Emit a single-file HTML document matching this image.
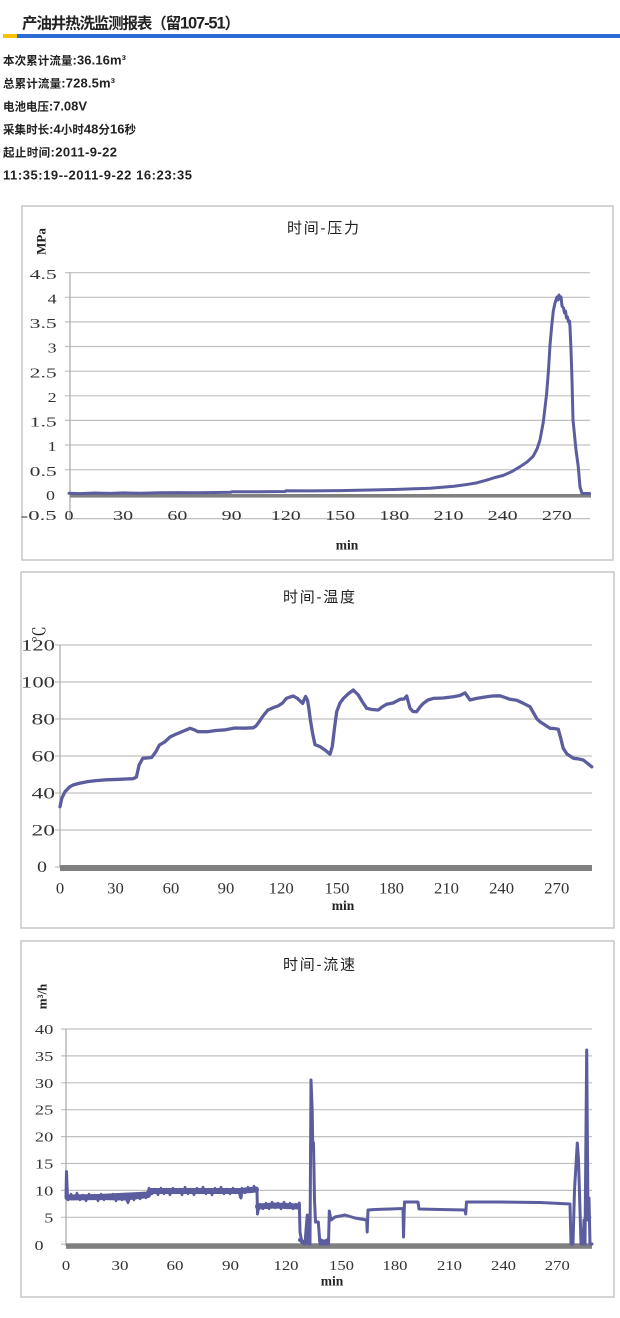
<!DOCTYPE html>
<html><head><meta charset="utf-8"><style>
html,body{margin:0;padding:0;background:#fff;}
svg{display:block;}
.cj{font-family:"Liberation Sans","Noto Sans CJK SC",sans-serif;}
.num{font-family:"Liberation Serif","Noto Serif CJK SC",serif;fill:#333;}
.ttl{font-family:"Liberation Sans","Noto Sans CJK SC",sans-serif;fill:#222;font-size:15px;}
.unit{font-family:"Liberation Serif","Noto Serif CJK SC",serif;font-weight:bold;fill:#222;}
.grid{stroke:#c0c0c0;stroke-width:1.2;}
.ax{stroke:#a8a8a8;stroke-width:1.2;}
.ser{fill:none;stroke:#5b5d9e;stroke-linejoin:round;stroke-linecap:round;}
</style></head><body>
<svg width="620" height="1318" viewBox="0 0 620 1318" xmlns="http://www.w3.org/2000/svg">
<rect x="0" y="0" width="620" height="1318" fill="#fff"/>

<!-- Header -->
<text x="22" y="28.5" class="cj" font-weight="bold" fill="#222" font-size="15.5" textLength="218" lengthAdjust="spacing">产油井热洗监测报表（留<tspan font-size="16.5">107-51</tspan>）</text>
<rect x="3" y="34" width="14" height="4" fill="#f6c200"/>
<rect x="17" y="34" width="603" height="4" fill="#2a6cd3"/>

<g class="cj" font-weight="bold" fill="#222" font-size="13">
<text x="3" y="64.7" textLength="123" lengthAdjust="spacing"><tspan font-size="11.5">本次累计流量</tspan>:36.16m³</text>
<text x="3" y="87.7" textLength="112" lengthAdjust="spacing"><tspan font-size="11.5">总累计流量</tspan>:728.5m³</text>
<text x="3" y="110.7" textLength="84" lengthAdjust="spacing"><tspan font-size="11.5">电池电压</tspan>:7.08V</text>
<text x="3" y="133.7" textLength="133" lengthAdjust="spacing"><tspan font-size="11.5">采集时长</tspan>:4<tspan font-size="11.5">小时</tspan>48<tspan font-size="11.5">分</tspan>16<tspan font-size="11.5">秒</tspan></text>
<text x="3" y="156.7" textLength="114" lengthAdjust="spacing"><tspan font-size="11.5">起止时间</tspan>:2011-9-22</text>
<text x="3" y="179.7" textLength="189" lengthAdjust="spacing">11:35:19--2011-9-22 16:23:35</text>
</g>

<!-- ============ Chart 1: pressure ============ -->
<rect x="22" y="206" width="591" height="354" fill="#fff" stroke="#c6c6c6" stroke-width="1.5"/>
<text x="323" y="233" text-anchor="middle" class="ttl" textLength="72" lengthAdjust="spacing">时间-压力</text>
<text transform="translate(45.5,241.5) rotate(-90)" text-anchor="middle" class="unit" font-size="13">MPa</text>
<g class="grid">
<line x1="65" x2="590" y1="272.7" y2="272.7"/>
<line x1="65" x2="590" y1="297.3" y2="297.3"/>
<line x1="65" x2="590" y1="321.9" y2="321.9"/>
<line x1="65" x2="590" y1="346.5" y2="346.5"/>
<line x1="65" x2="590" y1="371.2" y2="371.2"/>
<line x1="65" x2="590" y1="395.8" y2="395.8"/>
<line x1="65" x2="590" y1="420.4" y2="420.4"/>
<line x1="65" x2="590" y1="445.0" y2="445.0"/>
<line x1="65" x2="590" y1="469.7" y2="469.7"/>
<line x1="65" x2="590" y1="518.6" y2="518.6"/>
</g>
<line class="ax" x1="70" x2="70" y1="272.7" y2="518.6"/>
<g class="num" font-size="14" text-anchor="end">
<text x="56.7" y="279" textLength="27" lengthAdjust="spacingAndGlyphs">4.5</text>
<text x="56.7" y="303.5" textLength="9" lengthAdjust="spacingAndGlyphs">4</text>
<text x="56.7" y="328" textLength="27" lengthAdjust="spacingAndGlyphs">3.5</text>
<text x="56.7" y="352.5" textLength="9" lengthAdjust="spacingAndGlyphs">3</text>
<text x="56.7" y="377.5" textLength="27" lengthAdjust="spacingAndGlyphs">2.5</text>
<text x="56.7" y="402" textLength="9" lengthAdjust="spacingAndGlyphs">2</text>
<text x="56.7" y="426.5" textLength="27" lengthAdjust="spacingAndGlyphs">1.5</text>
<text x="56.7" y="451" textLength="9" lengthAdjust="spacingAndGlyphs">1</text>
<text x="56.7" y="476" textLength="27" lengthAdjust="spacingAndGlyphs">0.5</text>
<text x="55" y="500" textLength="9" lengthAdjust="spacingAndGlyphs">0</text>
<text x="56.7" y="520" textLength="36" lengthAdjust="spacingAndGlyphs">-0.5</text>
</g>
<g class="num" font-size="14" text-anchor="middle" fill="#444">
<text x="69" y="520" textLength="9" lengthAdjust="spacingAndGlyphs">0</text>
<text x="123.2" y="520" textLength="20" lengthAdjust="spacingAndGlyphs">30</text>
<text x="177.4" y="520" textLength="20" lengthAdjust="spacingAndGlyphs">60</text>
<text x="231.6" y="520" textLength="20" lengthAdjust="spacingAndGlyphs">90</text>
<text x="285.8" y="520" textLength="30" lengthAdjust="spacingAndGlyphs">120</text>
<text x="340.1" y="520" textLength="30" lengthAdjust="spacingAndGlyphs">150</text>
<text x="394.3" y="520" textLength="30" lengthAdjust="spacingAndGlyphs">180</text>
<text x="448.5" y="520" textLength="30" lengthAdjust="spacingAndGlyphs">210</text>
<text x="502.7" y="520" textLength="30" lengthAdjust="spacingAndGlyphs">240</text>
<text x="556.9" y="520" textLength="30" lengthAdjust="spacingAndGlyphs">270</text>
</g>
<rect x="70" y="494" width="521" height="3.6" fill="#808080"/>
<polyline class="ser" stroke-width="3" points="69,493.3 80,493.6 95,493 110,493.4 123,492.9 140,493.2 160,492.8 177,492.6 195,492.7 215,492.5 231,492.2 232,491.8 260,491.7 285,491.5 286,490.8 310,490.9 340,490.6 370,490 394,489.5 415,488.8 430,488.2 445,487 454,486.2 465,484.8 476,483 486,480.3 495,477.5 503,475.5 512,471.5 520,466.7 527,462 533,456.5 537,449 540,440 543.3,422 546.6,394 548.5,370 550,345 551.8,325 553.3,311 555,303 557,297 558,300 559,295 560,299 561,297 562,306 563.5,308 564.5,313 565.5,311 566.5,318 567.5,317 568.5,322 569.5,321 570,327 571,350 572,380 573,420 576,450 578.3,467 580,487 582,493.5 589.5,493.5"/>
<text x="347" y="549.5" text-anchor="middle" class="unit" font-size="13.5">min</text>

<!-- ============ Chart 2: temperature ============ -->
<rect x="21" y="572" width="593" height="356" fill="#fff" stroke="#c6c6c6" stroke-width="1.5"/>
<text x="319" y="602" text-anchor="middle" class="ttl" textLength="72" lengthAdjust="spacing">时间-温度</text>
<text transform="translate(45,634.5) rotate(-90)" text-anchor="middle" font-family="Liberation Serif,'Noto Serif CJK SC',serif" fill="#222" font-size="17">℃</text>
<g class="grid">
<line x1="55" x2="592" y1="645" y2="645"/>
<line x1="55" x2="592" y1="682" y2="682"/>
<line x1="55" x2="592" y1="719" y2="719"/>
<line x1="55" x2="592" y1="756" y2="756"/>
<line x1="55" x2="592" y1="793" y2="793"/>
<line x1="55" x2="592" y1="830" y2="830"/>
<line x1="55" x2="60" y1="867" y2="867"/>
</g>
<line class="ax" x1="60" x2="60" y1="645" y2="868"/>
<g class="num" font-size="16" text-anchor="end">
<text x="55" y="650.5" textLength="34" lengthAdjust="spacingAndGlyphs">120</text>
<text x="55" y="687.5" textLength="34" lengthAdjust="spacingAndGlyphs">100</text>
<text x="55" y="724.5" textLength="23.5" lengthAdjust="spacingAndGlyphs">80</text>
<text x="55" y="761.5" textLength="23.5" lengthAdjust="spacingAndGlyphs">60</text>
<text x="55" y="798.5" textLength="23.5" lengthAdjust="spacingAndGlyphs">40</text>
<text x="55" y="835.5" textLength="23.5" lengthAdjust="spacingAndGlyphs">20</text>
<text x="47" y="872" textLength="10" lengthAdjust="spacingAndGlyphs">0</text>
</g>
<g class="num" font-size="16" text-anchor="middle" fill="#444">
<text x="60" y="893.5" textLength="8.3" lengthAdjust="spacingAndGlyphs">0</text>
<text x="115.5" y="893.5" textLength="16.6" lengthAdjust="spacingAndGlyphs">30</text>
<text x="171" y="893.5" textLength="16.6" lengthAdjust="spacingAndGlyphs">60</text>
<text x="226" y="893.5" textLength="16.6" lengthAdjust="spacingAndGlyphs">90</text>
<text x="281.2" y="893.5" textLength="25" lengthAdjust="spacingAndGlyphs">120</text>
<text x="337" y="893.5" textLength="25" lengthAdjust="spacingAndGlyphs">150</text>
<text x="391.5" y="893.5" textLength="25" lengthAdjust="spacingAndGlyphs">180</text>
<text x="446.5" y="893.5" textLength="25" lengthAdjust="spacingAndGlyphs">210</text>
<text x="501.6" y="893.5" textLength="25" lengthAdjust="spacingAndGlyphs">240</text>
<text x="556.8" y="893.5" textLength="25" lengthAdjust="spacingAndGlyphs">270</text>
</g>
<rect x="60" y="865" width="532" height="6" fill="#808080"/>
<polyline class="ser" stroke-width="3.3" points="60,806.8 61.8,798.2 65,791.8 69.2,787.2 73,785 78.4,783.5 87.6,781.6 96,780.6 106,779.8 120,779.3 133.6,778.6 136.4,777 139.1,765 142.8,758.3 147,758 151.6,757.5 155.7,752 159.4,745 164.9,741.8 170,737 174.1,735 183.3,731.1 190.1,728.3 194.3,729.8 198,731.7 207.2,731.7 216,730.5 225.6,729.8 234.8,728 244,728.2 253.2,727.8 256,726 258.7,722.4 263,716 267.9,710 273.4,707.6 278,706 282.6,703 286.3,698.4 290,697 293.3,696 297.4,698.4 302.7,703.4 304,700 305.6,696.5 307.5,700.2 308.8,708 310.2,718.7 312.5,733 315,744.6 320,746.6 325,750 330,754.2 332.3,746.5 334.5,728 336.7,711.7 340,703 343.4,698.4 348,694 353.3,690 358.3,695 362.5,702 366.7,708.3 372,709.5 378.3,710 382,707 386.6,704.3 393,703 400,699.3 404,699 406.7,696 410,708.3 413,711.5 416.6,711.7 420,707 423.4,703.3 428,700 433.3,698.4 443,698 453.4,696.7 460,695.5 465,692.8 470,700 476,698.5 483.4,697.2 492,696 500,695.8 505,697.5 510,699.3 516.7,700.2 523.3,703.3 530,706.7 534.7,715 537,719 540,721.7 545,725 550,728.3 554,728.5 558.3,729.3 560.5,737.2 563.2,748.3 567,754 573.4,758.3 578,758.8 583.3,760 587,763 591.8,766.8"/>
<text x="343" y="910" text-anchor="middle" class="unit" font-size="13.5">min</text>

<!-- ============ Chart 3: flow ============ -->
<rect x="21" y="941" width="593" height="356" fill="#fff" stroke="#c6c6c6" stroke-width="1.5"/>
<text x="319" y="969.5" text-anchor="middle" class="ttl" textLength="72" lengthAdjust="spacing">时间-流速</text>
<text transform="translate(46.5,996.5) rotate(-90)" text-anchor="middle" class="unit" font-size="13">m³/h</text>
<g class="grid">
<line x1="61" x2="592" y1="1029" y2="1029"/>
<line x1="61" x2="592" y1="1055.9" y2="1055.9"/>
<line x1="61" x2="592" y1="1082.8" y2="1082.8"/>
<line x1="61" x2="592" y1="1109.7" y2="1109.7"/>
<line x1="61" x2="592" y1="1136.6" y2="1136.6"/>
<line x1="61" x2="592" y1="1163.5" y2="1163.5"/>
<line x1="61" x2="592" y1="1190.4" y2="1190.4"/>
<line x1="61" x2="592" y1="1217.3" y2="1217.3"/>
<line x1="61" x2="66" y1="1244.2" y2="1244.2"/>
</g>
<line class="ax" x1="66" x2="66" y1="1029" y2="1246"/>
<g class="num" font-size="14" text-anchor="end">
<text x="53.3" y="1034" textLength="18.4" lengthAdjust="spacingAndGlyphs">40</text>
<text x="53.3" y="1060.9" textLength="18.4" lengthAdjust="spacingAndGlyphs">35</text>
<text x="53.3" y="1087.8" textLength="18.4" lengthAdjust="spacingAndGlyphs">30</text>
<text x="53.3" y="1114.7" textLength="18.4" lengthAdjust="spacingAndGlyphs">25</text>
<text x="53.3" y="1141.6" textLength="18.4" lengthAdjust="spacingAndGlyphs">20</text>
<text x="53.3" y="1168.5" textLength="18.4" lengthAdjust="spacingAndGlyphs">15</text>
<text x="53.3" y="1195.4" textLength="18.4" lengthAdjust="spacingAndGlyphs">10</text>
<text x="53.3" y="1222.3" textLength="9" lengthAdjust="spacingAndGlyphs">5</text>
<text x="43.5" y="1249.8" textLength="9" lengthAdjust="spacingAndGlyphs">0</text>
</g>
<g class="num" font-size="14" text-anchor="middle" fill="#444">
<text x="66" y="1270" textLength="8.3" lengthAdjust="spacingAndGlyphs">0</text>
<text x="120" y="1270" textLength="17" lengthAdjust="spacingAndGlyphs">30</text>
<text x="175" y="1270" textLength="17" lengthAdjust="spacingAndGlyphs">60</text>
<text x="230.5" y="1270" textLength="17" lengthAdjust="spacingAndGlyphs">90</text>
<text x="286" y="1270" textLength="25" lengthAdjust="spacingAndGlyphs">120</text>
<text x="341.5" y="1270" textLength="25" lengthAdjust="spacingAndGlyphs">150</text>
<text x="395" y="1270" textLength="25" lengthAdjust="spacingAndGlyphs">180</text>
<text x="449.5" y="1270" textLength="25" lengthAdjust="spacingAndGlyphs">210</text>
<text x="503.5" y="1270" textLength="25" lengthAdjust="spacingAndGlyphs">240</text>
<text x="557.3" y="1270" textLength="25" lengthAdjust="spacingAndGlyphs">270</text>
</g>
<rect x="66" y="1243.3" width="526" height="5.5" fill="#808080"/>
<!-- noisy bands: base -->
<polyline class="ser" stroke-width="6" points="67.5,1197.5 100,1197 125,1197.5 130,1197 148,1195 150,1191 200,1191 240,1191 256,1189.5"/>
<polyline class="ser" stroke-width="6" points="258,1206.5 275,1205.5 298,1206.5"/>
<!-- noisy bands: jitter -->
<polyline class="ser" stroke-width="2.4" points="68,1200 71,1194 74,1199 77,1193 80,1200 83,1195 86,1201 89,1194 92,1199 95,1195 98,1201 101,1194 104,1200 107,1195 110,1199 113,1194 116,1201 119,1195 122,1200 125,1196 128,1203 131,1195 134,1200 137,1194 140,1199 143,1195 146,1198 148,1192 149,1188 152,1194 155,1189 158,1195 161,1188 164,1194 167,1189 170,1195 173,1188 176,1193 179,1189 182,1195 185,1187 188,1194 191,1189 194,1195 197,1188 200,1193 203,1187 206,1194 209,1189 212,1195 215,1188 218,1193 221,1187 224,1194 227,1189 230,1194 233,1188 236,1193 239,1190 240,1197 242,1188 245,1193 248,1187 251,1192 254,1186 256,1191"/>
<polyline class="ser" stroke-width="2.4" points="258,1212 260,1204 263,1209 266,1203 269,1209 272,1202 275,1208 278,1203 281,1209 284,1202 287,1208 290,1203 293,1209 296,1204 298,1208"/>
<polyline class="ser" stroke-width="4" points="300,1240 303,1242 306,1241 309,1243"/>
<polyline class="ser" stroke-width="4" points="320,1240 324,1242 328,1240"/>
<!-- main flow line -->
<polyline class="ser" stroke-width="3" points="66,1196 66.5,1171.6 67.5,1198 70,1197 148,1193 150,1190 240,1191 241,1198 242,1190 256,1190 257,1190 257.5,1214 258.5,1206 297,1207 298,1207 299.3,1203 300,1232 302,1243 305,1244 306,1230 307.3,1215 308.5,1244 310,1244 311,1080 312.2,1110 312.8,1150 313.5,1143 314.5,1200 315.5,1222 318.3,1222 320,1244 328.5,1244 329.3,1211 331,1220 335,1217 340,1216 345,1215 355,1218 366.7,1220 367.2,1232 368,1210 375,1209.5 390,1209 403,1208.5 403.5,1237 404.5,1202 418,1202 419,1209 440,1209.5 465,1210 465.7,1214 466.5,1202 500,1202 540,1202.5 570,1204 571,1244 573,1244 574.5,1190 577.3,1143 578.5,1160 581,1244 583,1244 584,1220 585,1244 586.7,1050 588,1220 589,1198 590,1244 592,1244"/>
<text x="332" y="1285.5" text-anchor="middle" class="unit" font-size="13.5">min</text>
</svg>
</body></html>
